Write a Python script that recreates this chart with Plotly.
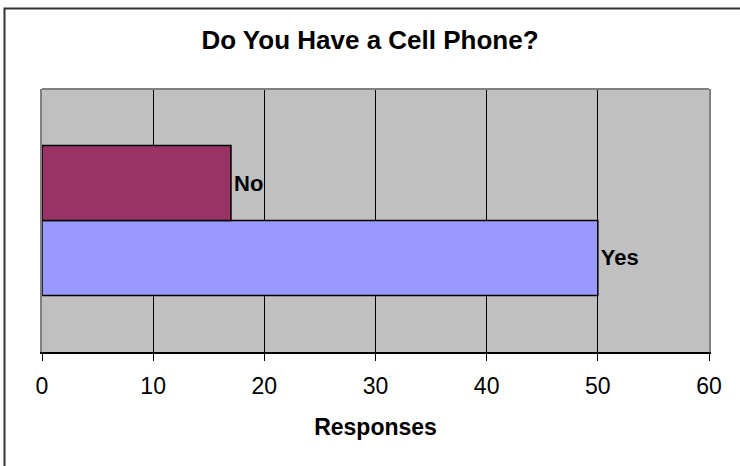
import plotly.graph_objects as go

# Survey answers and their counts
answers = ["Yes", "No"]
counts = [50, 17]
bar_colors = ["#9999FF", "#993366"]

x_ticks = [0, 10, 20, 30, 40, 50, 60]

fig = go.Figure()
for name, value, color in zip(answers, counts, bar_colors):
    fig.add_trace(go.Bar(
        x=[value],
        y=[0],
        orientation="h",
        name=name,
        marker=dict(color=color, line=dict(color="black", width=1.5)),
        text=[name],
        textposition="outside",
        textfont=dict(family="Liberation Sans, Arial, sans-serif", size=22, color="black", weight="bold"),
        cliponaxis=False,
        hoverinfo="x+name",
    ))

fig.update_layout(
    width=740,
    height=466,
    margin=dict(l=42, r=31, t=89, b=114),
    paper_bgcolor="white",
    plot_bgcolor="#C0C0C0",
    barmode="group",
    bargap=0.43,
    bargroupgap=0,
    showlegend=False,
    font=dict(family="Liberation Sans, Arial, sans-serif", color="black"),
    title=dict(
        text="<b>Do You Have a Cell Phone?</b>",
        x=0.5,
        xref="container",
        xanchor="center",
        y=1 - 40 / 466,
        yref="container",
        yanchor="middle",
        font=dict(size=26, color="black"),
    ),
    xaxis=dict(
        range=[0, 60],
        tickvals=x_ticks,
        ticktext=[str(t) for t in x_ticks],
        tickfont=dict(size=23),
        ticklabelstandoff=6,
        showgrid=True,
        gridcolor="black",
        gridwidth=1,
        zeroline=False,
        showline=True,
        linecolor="black",
        linewidth=1.5,
        ticks="outside",
        ticklen=7,
        tickcolor="black",
        tickwidth=1,
        title=dict(text="<b>Responses</b>", font=dict(size=23), standoff=21),
    ),
    yaxis=dict(
        range=[-0.5, 0.5],
        showticklabels=False,
        showgrid=False,
        zeroline=False,
        showline=True,
        linecolor="#808080",
        linewidth=2,
        mirror=True,
        ticks="",
    ),
    shapes=[
        # top edge of the plot area
        dict(type="line", xref="paper", yref="paper", x0=0, x1=1, y0=1, y1=1,
             line=dict(color="#808080", width=2)),
        # outer chart frame
        dict(type="rect", xref="paper", yref="paper",
             x0=-0.0562, x1=2, y0=-1, y1=1.306,
             line=dict(color="#333333", width=2), fillcolor="rgba(0,0,0,0)"),
    ],
)

fig.write_html("out.html")
